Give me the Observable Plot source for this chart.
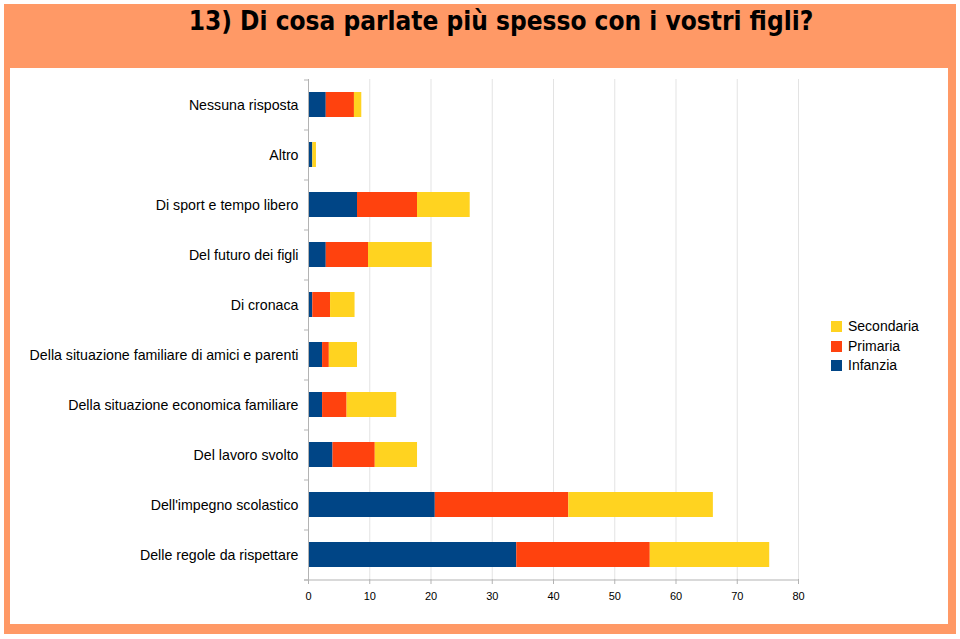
<!DOCTYPE html>
<html>
<head>
<meta charset="utf-8">
<script src="https://cdn.jsdelivr.net/npm/d3@7"></script>
<script src="https://cdn.jsdelivr.net/npm/@observablehq/plot@0.6"></script>
<style>
  html, body { margin: 0; padding: 0; background: #fff; }
  #page { position: relative; width: 960px; height: 639px; overflow: hidden; background: #fff; font-family: "Liberation Sans", Arial, sans-serif; }
  #frame { position: absolute; left: 4px; top: 4px; width: 952px; height: 630px; background: #ff9966; }
  #panel { position: absolute; left: 10px; top: 68px; width: 938px; height: 556px; background: #fff; }
  #title { position: absolute; left: 0; top: 4px; width: 1002px; text-align: center; font-family: "DejaVu Sans Condensed", "DejaVu Sans", sans-serif; font-weight: bold; font-size: 26px; line-height: 34px; color: #000; }
  #chart { position: absolute; left: 0; top: 68px; }
  #legend { position: absolute; left: 831px; top: 317px; font-size: 14px; line-height: 19.5px; color: #000; }
  .li { display: flex; align-items: center; }
  .sw { width: 11px; height: 11px; margin-right: 6px; box-sizing: border-box; }
</style>
</head>
<body>
<div id="page">
  <div id="frame"></div>
  <div id="panel"></div>
  <div id="title">13) Di cosa parlate più spesso con i vostri figli?</div>
  <div id="chart"></div>
  <div id="legend"></div>
</div>
<script>
const categories = [
  "Nessuna risposta",
  "Altro",
  "Di sport e tempo libero",
  "Del futuro dei figli",
  "Di cronaca",
  "Della situazione familiare di amici e parenti",
  "Della situazione economica familiare",
  "Del lavoro svolto",
  "Dell'impegno scolastico",
  "Delle regole da rispettare"
];
const seriesNames = ["Infanzia", "Primaria", "Secondaria"];
const seriesColors = ["#004586", "#ff420e", "#ffd320"];
const infanzia   = [2.9, 0.7, 8.0, 2.9, 0.7, 2.3, 2.3, 4.0, 20.7, 34.0];
const primaria   = [4.6, 0.0, 9.8, 6.9, 2.9, 1.1, 4.0, 6.9, 21.8, 21.8];
const secondaria = [1.2, 0.6, 8.6, 10.4, 4.0, 4.6, 8.1, 6.9, 23.6, 19.5];
const xTicks = [0, 10, 20, 30, 40, 50, 60, 70, 80];

const seriesValues = [infanzia, primaria, secondaria];
const data = [];
seriesNames.forEach((s, si) => {
  categories.forEach((c, ci) => {
    data.push({category: c, series: s, value: seriesValues[si][ci]});
  });
});

const lastCat = categories[categories.length - 1];
const chart = Plot.plot({
  width: 820,
  height: 556,
  marginLeft: 308,
  marginRight: 22,
  marginTop: 11,
  marginBottom: 45,
  style: {fontFamily: "Liberation Sans, Arial, sans-serif", background: "transparent", overflow: "visible"},
  x: {domain: [0, 80], ticks: xTicks, label: null},
  y: {domain: categories, paddingInner: 0.5, paddingOuter: 0.25, label: null},
  color: {domain: seriesNames, range: seriesColors},
  marks: [
    Plot.ruleX(xTicks.slice(1), {stroke: "#e3e3e3", strokeWidth: 1}),
    Plot.barX(data, Plot.stackX({
      x: "value", y: "category", fill: "series",
      order: seriesNames, insetTop: 0, insetBottom: 0
    })),
    // y axis line
    Plot.ruleX([0], {stroke: "#b3b3b3"}),
    // band boundary ticks on y axis
    Plot.ruleY(categories, {y: d => d, x1: -0.65, x2: 0, dy: -25, stroke: "#b3b3b3"}),
    Plot.ruleY([lastCat], {y: d => d, x1: -0.65, x2: 0, dy: 25, stroke: "#b3b3b3"}),
    // bottom axis line
    Plot.ruleY([lastCat], {y: d => d, x1: -0.65, x2: 80, dy: 25, stroke: "#b3b3b3"}),
    Plot.axisX({ticks: xTicks, tickSize: 5, tickPadding: 8, stroke: "#b3b3b3", fontSize: 11, color: "#000", label: null,
      tickFormat: d => String(d)}),
    Plot.axisY({tickSize: 0, tickPadding: 10, fontSize: 14.2, label: null, color: "#000"})
  ]
});
document.getElementById("chart").appendChild(chart);

chart.querySelectorAll("g[aria-label='x-axis tick label'] text, g[aria-label='y-axis tick label'] text").forEach(t => t.setAttribute("fill", "#000"));

const legend = document.getElementById("legend");
[2, 1, 0].forEach(i => {
  const row = document.createElement("div");
  row.className = "li";
  const sw = document.createElement("div");
  sw.className = "sw";
  sw.style.background = seriesColors[i];
  row.appendChild(sw);
  const t = document.createElement("span");
  t.textContent = seriesNames[i];
  row.appendChild(t);
  legend.appendChild(row);
});
</script>
</body>
</html>
